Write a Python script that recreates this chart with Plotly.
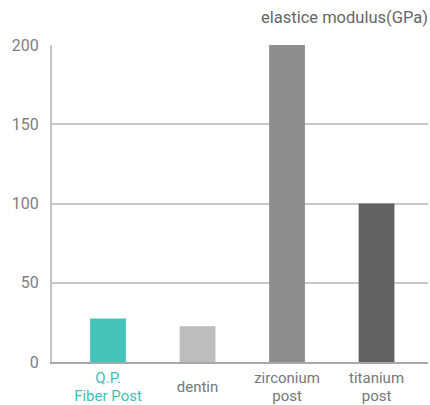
import plotly.graph_objects as go

categories = ["Q.P.<br>Fiber Post", "dentin", "zirconium<br>post", "titanium<br>post"]
values = [27.5, 22.5, 200, 100]
colors = ["#46c2b8", "#bdbdbd", "#8e8e8e", "#626262"]
tick_vals = [0, 50, 100, 150, 200]
tick_text = ["0", "50", "100", "150", "200"]
title_text = "elastice modulus(GPa)"

big = "font-size:15px"


def fmt(label, extra=""):
    parts = label.split("<br>")
    if len(parts) == 1:
        extra += ";baseline-shift:-9px"
    return "<br>".join(f'<span style="{big}{extra}">{p}</span>' for p in parts)


x_labels = [fmt(categories[0], ";fill:#3fbfb3")] + [fmt(c) for c in categories[1:]]

fig = go.Figure(go.Bar(
    x=list(range(len(categories))),
    y=values,
    marker=dict(color=colors, line=dict(width=0)),
    width=0.4,
))

fig.update_layout(
    width=430, height=405,
    margin=dict(l=52, r=2, t=45, b=43),
    plot_bgcolor="white", paper_bgcolor="white",
    showlegend=False,
    font=dict(family="Roboto", color="#777777", size=16),
    xaxis=dict(
        tickmode="array", tickvals=list(range(len(categories))), ticktext=x_labels,
        range=[-0.626, 3.575], showgrid=False, showline=True, linecolor="#a8a8a8",
        linewidth=2, ticks="", tickfont=dict(size=13.6, color="#777777"), zeroline=False,
        automargin=False, ticklabelstandoff=3,
    ),
    yaxis=dict(
        range=[0, 200], tickmode="array", tickvals=tick_vals, ticktext=tick_text,
        showgrid=True, gridcolor="rgba(0,0,0,0.22)", gridwidth=1.5,
        showline=True, linecolor="#c4c4c4", linewidth=2, ticks="",
        layer="above traces", zeroline=False, ticklabelstandoff=8,
        tickfont=dict(size=16, color="#808080"), automargin=False,
    ),
    annotations=[dict(
        text=title_text, xref="paper", yref="paper", x=1.0, y=1.088,
        xanchor="right", yanchor="middle", showarrow=False, xshift=2,
        font=dict(size=16.5, color="#666666"),
    )],
)

fig.write_html("out.html", config={"displayModeBar": False},
               post_script="document.body.style.margin='0';")
